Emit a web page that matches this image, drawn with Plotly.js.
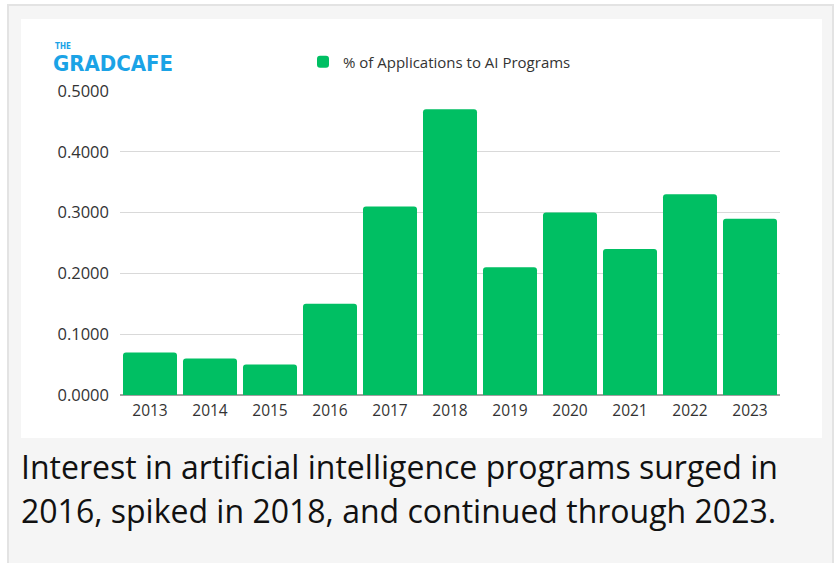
<!DOCTYPE html>
<html><head><meta charset="utf-8">
<script src="https://cdn.plot.ly/plotly-3.0.1.min.js"></script>
<style>html,body{margin:0;padding:0;background:#fff;}#chart{width:838px;height:563px;}</style>
</head><body><div id="chart"></div>
<script>
const years = ['2013','2014','2015','2016','2017','2018','2019','2020','2021','2022','2023'];
const shareAI = [0.07, 0.06, 0.05, 0.15, 0.31, 0.47, 0.21, 0.30, 0.24, 0.33, 0.29];
const seriesName = '% of Applications to AI Programs';
const yTicks = [0, 0.1, 0.2, 0.3, 0.4, 0.5];
const yTickText = ['0.0000','0.1000','0.2000','0.3000','0.4000','0.5000'];
const captionLines = ['Interest in artificial intelligence programs surged in','2016, spiked in 2018, and continued through 2023.'];

const L = 120, R = 58, T = 91, B = 168, W = 838, H = 563;
const pw = W - L - R, ph = H - T - B;
const px = x => (x - L) / pw;
const py = y => (H - B - y) / ph;

const trace = {
  type: 'bar', x: years, y: shareAI, name: seriesName,
  marker: {color: '#00bf63', cornerradius: 3},
  showlegend: true, hoverinfo: 'x+y'
};

const layout = {
  width: W, height: H,
  margin: {l: L, r: R, t: T, b: B, pad: 0},
  paper_bgcolor: '#ffffff', plot_bgcolor: 'rgba(0,0,0,0)',
  bargap: 0.1,
  font: {family: 'Open Sans, sans-serif', color: '#333333', size: 15},
  xaxis: {type: 'category', showgrid: false, zeroline: false, showline: false, ticks: '',
          tickfont: {size: 15.5, color: '#333333'}, ticklabelstandoff: 4},
  yaxis: {range: [0, 0.5], tickvals: yTicks, ticktext: yTickText, showgrid: true,
          gridcolor: '#d9d9d9', gridwidth: 1, zeroline: true, zerolinecolor: '#a0a0a0', zerolinewidth: 1.5,
          showline: false, ticks: '', tickfont: {size: 16.5, color: '#333333'}, ticklabelstandoff: 10},
  showlegend: true,
  legend: {orientation: 'h', x: px(303), y: py(62), xanchor: 'left', yanchor: 'middle',
           font: {size: 15, color: '#333333'}, bgcolor: 'rgba(0,0,0,0)'},
  shapes: [
    {type: 'rect', xref: 'paper', yref: 'paper', layer: 'below',
     x0: px(8), x1: px(833), y0: py(5), y1: py(600),
     fillcolor: '#f5f5f5', line: {color: '#e3e3e3', width: 2}},
    {type: 'rect', xref: 'paper', yref: 'paper', layer: 'below',
     x0: px(21), x1: px(822), y0: py(19), y1: py(438),
     fillcolor: '#ffffff', line: {width: 0}}
  ],
  annotations: [
    {xref: 'paper', yref: 'paper', x: px(53), y: py(46), xanchor: 'left', yanchor: 'middle',
     text: '<b>THE</b>', showarrow: false, font: {family: 'DejaVu Sans Condensed, DejaVu Sans', size: 8, color: '#1ba3e6'}},
    {xref: 'paper', yref: 'paper', x: px(51), y: py(63), xanchor: 'left', yanchor: 'middle',
     text: '<b>GRADCAFE</b>', showarrow: false, font: {family: 'DejaVu Sans Condensed, DejaVu Sans', size: 22, color: '#1ba3e6'}},
    {xref: 'paper', yref: 'paper', x: px(19), y: py(466), xanchor: 'left', yanchor: 'middle',
     text: captionLines[0], showarrow: false, font: {family: 'Open Sans', size: 32, color: '#111111'}},
    {xref: 'paper', yref: 'paper', x: px(19), y: py(510), xanchor: 'left', yanchor: 'middle',
     text: captionLines[1], showarrow: false, font: {family: 'Open Sans', size: 32, color: '#111111'}}
  ]
};

Plotly.newPlot('chart', [trace], layout, {displayModeBar: false, staticPlot: true});
</script></body></html>
